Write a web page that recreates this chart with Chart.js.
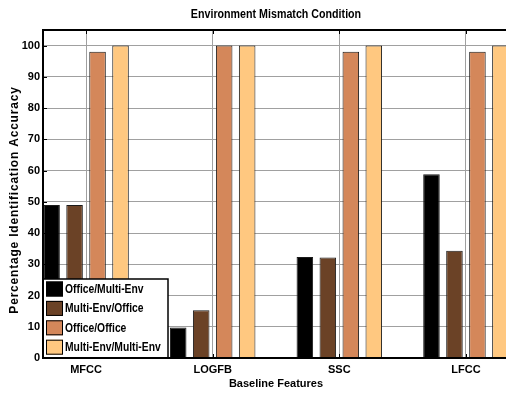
<!DOCTYPE html>
<html>
<head>
<meta charset="utf-8">
<script src="https://cdn.jsdelivr.net/npm/chart.js@4"></script>
<style>
    html, body { margin: 0; padding: 0; background: #fff; overflow: hidden; }
    #wrap { width: 550px; height: 394px; }
</style>
</head>
<body>
<div id="wrap"><canvas id="chart"></canvas></div>
<script>
const chartTitle = "Environment Mismatch Condition";
const xTitle = "Baseline Features";
const yTitle = "Percentage Identification Accuracy";

const features = ["MFCC", "LOGFB", "SSC", "LFCC"];
const seriesNames = ["Office/Multi-Env", "Multi-Env/Office", "Office/Office", "Multi-Env/Multi-Env"];
const officeMulti = [49, 9.8, 32.3, 58.8];
const multiOffice = [49, 15.3, 32.2, 34.3];
const officeOffice = [98, 100, 98, 98];
const multiMulti = [100, 100, 100, 100];
const yTicks = [0, 10, 20, 30, 40, 50, 60, 70, 80, 90, 100];

const colors = ["#000000", "#6b4226", "#d4875a", "#ffc880"];
const sans = "'Liberation Sans', Arial, sans-serif";

const series = [officeMulti, multiOffice, officeOffice, multiMulti];

// squeezed text, the reference uses a narrow face that is not installed
function narrowText(ctx, text, x, y, squeeze) {
    ctx.save();
    ctx.translate(x, y);
    ctx.scale(squeeze, 1);
    ctx.fillText(text, 0, 0);
    ctx.restore();
}

// title, axis title, frame, inside ticks and the legend box
const framePlugin = {
    id: "frame",
    afterDraw(chart) {
        const { ctx, chartArea: a, scales } = chart;
        ctx.save();

        ctx.fillStyle = "#000";
        ctx.font = "bold 12px " + sans;
        ctx.textAlign = "center";
        ctx.textBaseline = "middle";
        narrowText(ctx, chartTitle, (a.left + a.right) / 2, 15, 0.89);

        ctx.save();
        ctx.translate(15, (a.top + a.bottom) / 2 + 6);
        ctx.rotate(-Math.PI / 2);
        ctx.letterSpacing = "0.8px";
        ctx.fillText(yTitle, 0, 0);
        ctx.restore();

        ctx.strokeStyle = "#000";
        ctx.lineWidth = 1;
        ctx.beginPath();
        features.forEach((f, i) => {
            const x = Math.round(scales.x.getPixelForValue(i)) + 0.5;
            ctx.moveTo(x, a.top); ctx.lineTo(x, a.top + 4);
            ctx.moveTo(x, a.bottom); ctx.lineTo(x, a.bottom - 4);
        });
        yTicks.forEach(v => {
            const y = Math.round(scales.y.getPixelForValue(v)) + 0.5;
            ctx.moveTo(a.left, y); ctx.lineTo(a.left + 4, y);
        });
        ctx.stroke();

        // legend
        const lw = 125, lh = 79;
        const lx = a.left, ly = a.bottom - lh;
        ctx.fillStyle = "#fff";
        ctx.fillRect(lx, ly, lw, lh);
        ctx.lineWidth = 1.5;
        ctx.strokeRect(lx, ly, lw, lh);
        ctx.textAlign = "left";
        seriesNames.forEach((name, i) => {
            const sy = ly + 2.5 + i * 19.4;
            ctx.fillStyle = colors[i];
            ctx.fillRect(lx + 3, sy, 17, 15);
            ctx.lineWidth = 1;
            ctx.strokeRect(lx + 3.5, sy + 0.5, 16, 14);
            ctx.fillStyle = "#000";
            narrowText(ctx, name, lx + 22, sy + 8, 0.86);
        });

        ctx.lineWidth = 2;
        ctx.strokeRect(a.left, a.top, a.right - a.left, a.bottom - a.top);
        ctx.restore();
    }
};

const context = document.getElementById("chart").getContext("2d");
const chart = new Chart(context, {
    type: "bar",
    data: {
        datasets: series.map((vals, k) => ({
            label: seriesNames[k],
            data: vals.map((v, i) => ({ x: i, y: v })),
            backgroundColor: colors[k],
            borderColor: "#1a1a1a",
            borderWidth: 1,
            categoryPercentage: 0.726,
            barPercentage: 0.72
        }))
    },
    options: {
        responsive: true,
        maintainAspectRatio: false,
        animation: false,
        layout: { padding: { top: 30, right: 41, left: 0, bottom: 0 } },
        plugins: {
            legend: { display: false },
            title: { display: false },
            tooltip: { enabled: false }
        },
        scales: {
            x: {
                type: "linear",
                min: -0.34,
                max: 3.34,
                offset: false,
                afterBuildTicks: s => { s.ticks = features.map((f, i) => ({ value: i })); },
                afterFit: s => { s.height = 36; },
                grid: { color: "#a0a0a0", offset: false, drawTicks: false },
                border: { display: false },
                ticks: {
                    color: "#000",
                    maxRotation: 0,
                    autoSkip: false,
                    padding: 5,
                    font: { family: sans, size: 11, weight: "bold" },
                    callback: v => features[v]
                },
                title: {
                    display: true,
                    text: xTitle,
                    color: "#000",
                    font: { family: sans, size: 11, weight: "bold" },
                    padding: { top: 0, bottom: 3 }
                }
            },
            y: {
                min: 0,
                max: 105,
                afterBuildTicks: s => { s.ticks = yTicks.map(v => ({ value: v })); },
                afterFit: s => { s.width = 43; },
                grid: { color: "#a0a0a0", drawTicks: false },
                border: { display: false },
                ticks: {
                    color: "#000",
                    padding: 3,
                    font: { family: sans, size: 11, weight: "bold" }
                },
                title: { display: false }
            }
        }
    },
    plugins: [framePlugin]
});
</script>
</body>
</html>
